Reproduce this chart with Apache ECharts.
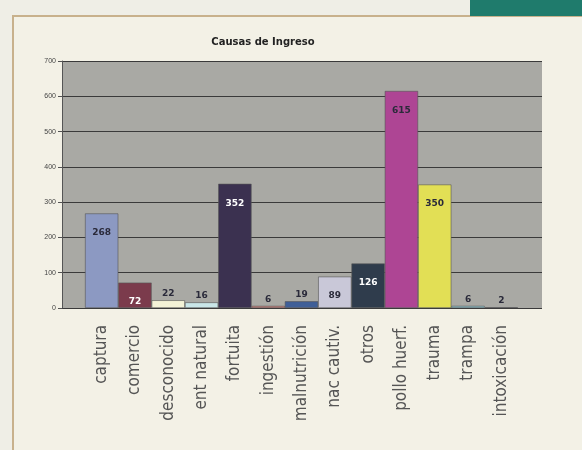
<!DOCTYPE html>
<html>
<head>
<meta charset="utf-8">
<script src="https://cdn.jsdelivr.net/npm/echarts@6/dist/echarts.min.js"></script>
<style>
  html, body { margin: 0; padding: 0; background: #efeee6; }
  #chart { width: 582px; height: 450px; }
</style>
</head>
<body>
<div id="chart"></div>
<script>
// causas de ingreso
const causas = ['captura', 'comercio', 'desconocido', 'ent natural', 'fortuita', 'ingestión',
  'malnutrición', 'nac cautiv.', 'otros', 'pollo huerf.', 'trauma', 'trampa', 'intoxicación']
const ingresos = [268, 72, 22, 16, 352, 6, 19, 89, 126, 615, 350, 6, 2]
const colores = ['#8c99c2', '#7b3b4c', '#f3f2d6', '#c9e6e8', '#3b3150', '#d87c78',
  '#3f5f98', '#c9c8d8', '#2f3c4c', '#ae4594', '#e2df55', '#8fcfdc', '#666a84']
const yTicks = [0, 100, 200, 300, 400, 500, 600, 700]

const oscuros = ['#7b3b4c', '#3b3150', '#2f3c4c']

const barData = ingresos.map((v, i) => ({
  value: v,
  itemStyle: { color: colores[i] },
  label: {
    position: v > 60 ? 'insideTop' : 'top',
    distance: v > 60 ? 15 : 2,
    color: oscuros.includes(colores[i]) ? '#ffffff' : '#2a2a3a'
  }
}))

const chart = echarts.init(document.getElementById('chart'), null, { renderer: 'canvas' })
chart.setOption({
  backgroundColor: '#efeee6',
  animation: false,
  title: {
    text: 'Causas de Ingreso',
    left: 258,
    top: 32,
    textAlign: 'center',
    textStyle: { fontSize: 10, fontWeight: 'bold', color: '#222', fontFamily: 'DejaVu Sans' }
  },
  graphic: [
    { type: 'rect', shape: { x: 470, y: 0, width: 112, height: 16 }, style: { fill: '#1f7b6c' }, z: -1 },
    { type: 'rect', shape: { x: 13, y: 16, width: 600, height: 500 }, style: { fill: '#f3f1e6', stroke: '#c8b18c', lineWidth: 2 }, z: -2 }
  ],
  grid: [
    { left: 62, right: 40, top: 61, bottom: 142, show: true, backgroundColor: '#a9a9a4', borderWidth: 0 },
    { left: 85, right: 64, top: 61, bottom: 142 }
  ],
  xAxis: [
    { gridIndex: 0, type: 'category', data: [''], show: false },
    {
      gridIndex: 1,
      type: 'category',
      data: causas,
      axisLine: { show: false },
      axisTick: { show: false },
      axisLabel: { rotate: 90, fontSize: 17, color: '#555', margin: 17, fontFamily: 'DejaVu Sans Condensed' }
    }
  ],
  yAxis: [
    {
      gridIndex: 0,
      type: 'value',
      min: 0,
      max: 700,
      interval: 100,
      axisLine: { show: true, lineStyle: { color: '#555' } },
      axisTick: { show: true, length: 4, lineStyle: { color: '#555' } },
      axisLabel: { fontSize: 7, color: '#444', margin: 6, formatter: v => yTicks.includes(v) ? String(v) : '' },
      splitLine: { show: true, lineStyle: { color: '#3a3a3a', width: 1 } }
    },
    { gridIndex: 1, type: 'value', min: 0, max: 700, show: false, splitLine: { show: false } }
  ],
  series: [
    {
      type: 'bar',
      xAxisIndex: 1,
      yAxisIndex: 1,
      data: barData,
      barCategoryGap: '0%',
      itemStyle: { borderColor: '#555', borderWidth: 0.6 },
      label: { show: true, fontSize: 9, fontWeight: 'bold', fontFamily: 'DejaVu Sans' }
    }
  ]
})
</script>
</body>
</html>
